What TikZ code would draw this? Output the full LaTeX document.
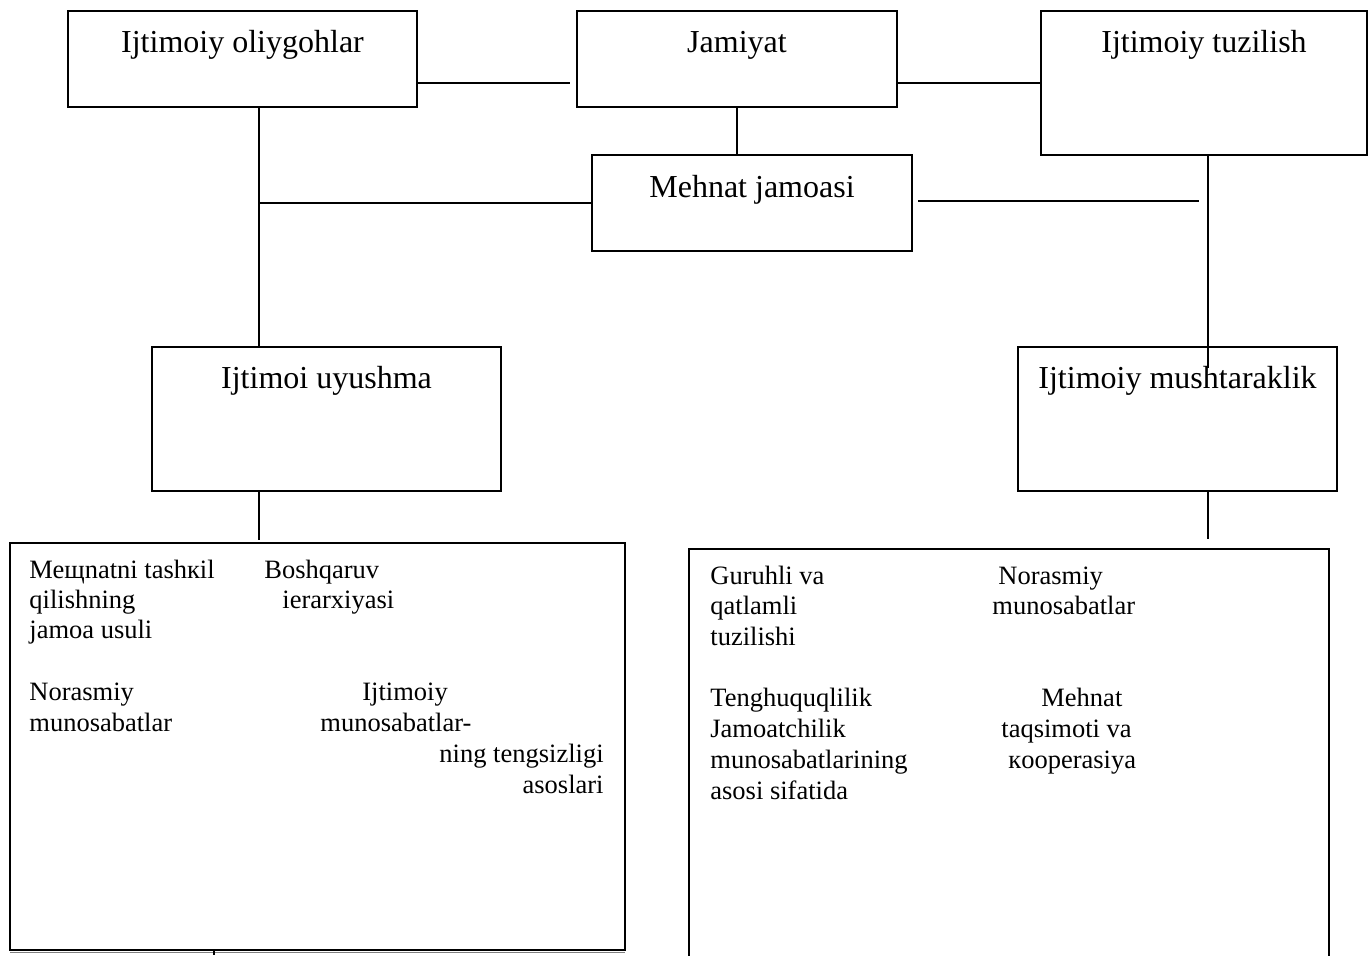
\documentclass[tikz,border=0pt]{standalone}
\usepackage{fontspec}
\setmainfont{Liberation Serif}
\begin{document}
\begin{tikzpicture}[x=0.5pt,y=-0.5pt,
  box/.style={draw, line width=1pt, inner sep=0pt, outer sep=0pt},
  conn/.style={line width=0.8pt},
  head/.style={anchor=base, inner sep=0pt, font=\fontsize{16}{18}\selectfont},
  txt/.style={anchor=base west, inner sep=0pt, font=\fontsize{13.25}{14.25}\selectfont},
  txtr/.style={anchor=base east, inner sep=0pt, font=\fontsize{13.25}{14.25}\selectfont}]
\useasboundingbox (0,0) rectangle (1370,955);
% boxes
\node[box, minimum width=174.5pt, minimum height=48pt] (A) at (242.5,59) {};
\node[box, minimum width=160pt, minimum height=48pt] (B) at (737,59) {};
\node[box, minimum width=163pt, minimum height=72pt] (C) at (1204,83) {};
\node[box, minimum width=160pt, minimum height=48pt] (D) at (752,203) {};
\node[box, minimum width=174.5pt, minimum height=72pt] (E) at (326.5,419) {};
\node[box, minimum width=159.5pt, minimum height=72pt] (F) at (1177.5,419) {};
\node[box, minimum width=307.5pt, minimum height=203.5pt] (G) at (317.5,746.5) {};
\draw[line width=1pt] (689,958) -- (689,549) -- (1329,549) -- (1329,958);
% header texts
\node[head] (tA) at (242.5,52) {Ijtimoiy oliygohlar};
\node[head] (tB) at (737,52) {Jamiyat};
\node[head] (tC) at (1204,52) {Ijtimoiy tuzilish};
\node[head] (tD) at (752,197) {Mehnat jamoasi};
\node[head] (tE) at (326.5,388) {Ijtimoi uyushma};
\node[head] (tF) at (1177.5,388) {Ijtimoiy mushtaraklik};
% left big box texts
\node[txt] (g1) at (29,578) {Мещnatni tashкil};
\node[txt] (g2) at (29,608) {qilishning};
\node[txt] (g3) at (29,638) {jamoa usuli};
\node[txt] (g4) at (264,578) {Boshqaruv};
\node[txt] (g5) at (282,608) {ierarxiyasi};
\node[txt] (g6) at (29,700) {Norasmiy};
\node[txt] (g7) at (29,731) {munosabatlar};
\node[txt] (g8) at (362,700) {Ijtimoiy};
\node[txt] (g9) at (320,731) {munosabatlar-};
\node[txtr] (g10) at (604,762) {ning tengsizligi};
\node[txtr] (g11) at (604,793) {asoslari};
% right big box texts
\node[txt] (h1) at (710,584) {Guruhli va};
\node[txt] (h2) at (710,614) {qatlamli};
\node[txt] (h3) at (710,645) {tuzilishi};
\node[txt] (h4) at (998,584) {Norasmiy};
\node[txt] (h5) at (992,614) {munosabatlar};
\node[txt] (h6) at (710,706) {Tenghuquqlilik};
\node[txt] (h7) at (710,737) {Jamoatchilik};
\node[txt] (h8) at (710,768) {munosabatlarining};
\node[txt] (h9) at (710,799) {asosi sifatida};
\node[txt] (h10) at (1041,706) {Mehnat};
\node[txt] (h11) at (1001,737) {taqsimoti va};
\node[txt] (h12) at (1008,768) {кooperasiya};
% connectors
\coordinate (lx) at (259,0);
\coordinate (rx) at (1208,0);
\coordinate (abEnd) at (570,83);
\draw[conn] (A.east |- abEnd) -- (abEnd);
\draw[conn] (B.east |- abEnd) -- (C.west |- abEnd);
\draw[conn] (B.south) -- (D.north -| B.south);
\draw[conn] (A.south -| lx) -- (E.north -| lx);
\draw[conn] (D.west) -- (D.west -| lx);
\coordinate (mL) at (918,201);
\coordinate (mR) at (1199,201);
\draw[conn] (mL) -- (mR);
\coordinate (cEnd) at (1208,368);
\draw[conn] (C.south -| rx) -- (cEnd);
\coordinate (gTop) at (259,540);
\draw[conn] (E.south -| lx) -- (gTop);
\coordinate (hTop) at (1208,539);
\draw[conn] (F.south -| rx) -- (hTop);
\draw[gray, line width=0.6pt] ([yshift=-1.3pt]G.south west) -- ([yshift=-1.3pt]G.south east);
\coordinate (tick) at (214,955);
\draw[conn] (G.south -| tick) -- (tick);
\end{tikzpicture}
\end{document}
